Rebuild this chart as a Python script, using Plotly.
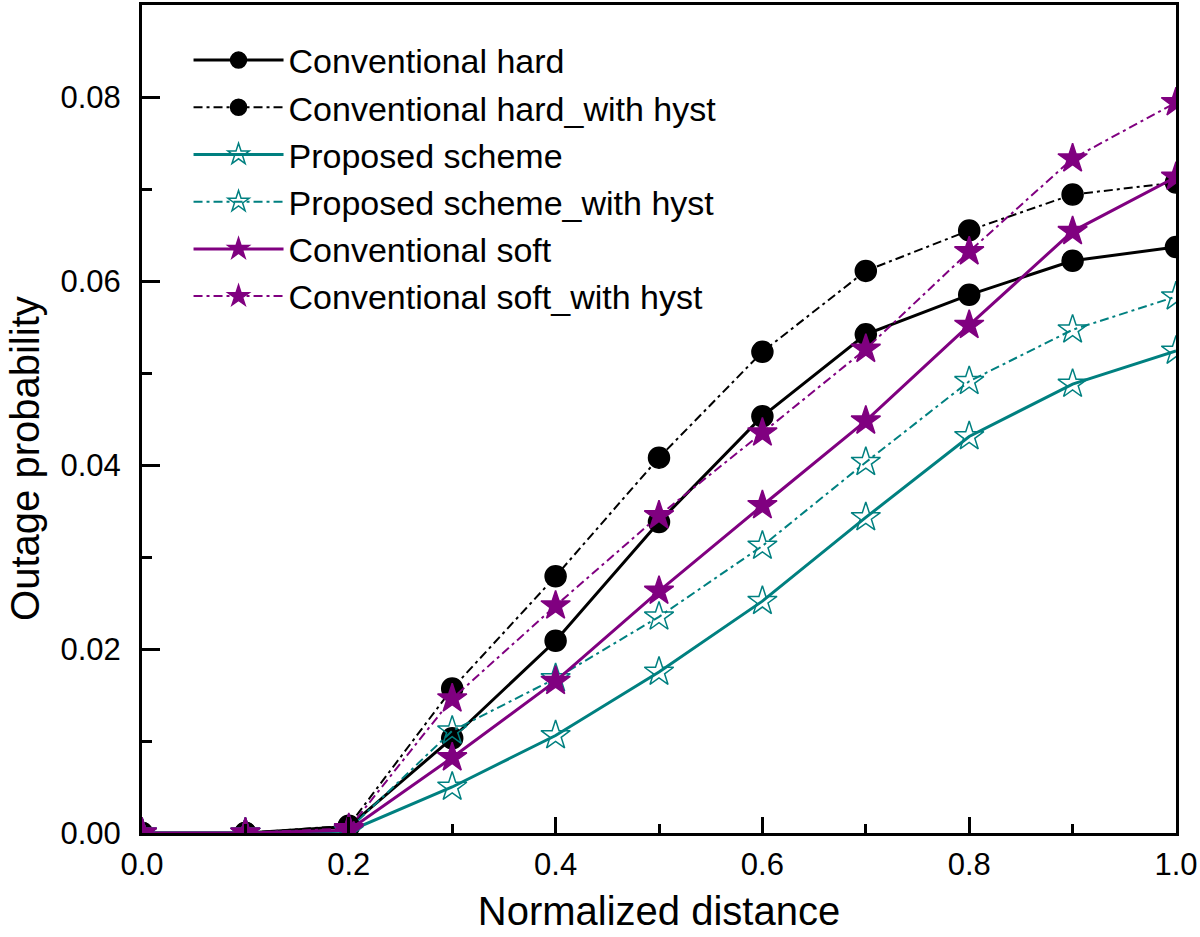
import plotly.graph_objects as go

x = [0.0, 0.1, 0.2, 0.3, 0.4, 0.5, 0.6, 0.7, 0.8, 0.9, 1.0]

hard = [0.0, 0.0, 0.0007, 0.0103, 0.0209, 0.0338, 0.0453, 0.0542, 0.0585, 0.0622, 0.0637]
hard_hyst = [0.0, 0.0, 0.0008, 0.0157, 0.0279, 0.0408, 0.0523, 0.0611, 0.0655, 0.0694, 0.0707]
proposed = [0.0, 0.0, 0.0002, 0.0050, 0.0106, 0.0175, 0.0252, 0.0343, 0.0431, 0.0488, 0.0524]
proposed_hyst = [0.0, 0.0, 0.0004, 0.0111, 0.0168, 0.0235, 0.0312, 0.0403, 0.0491, 0.0547, 0.0583]
soft = [0.0, 0.0, 0.0003, 0.0082, 0.0165, 0.0263, 0.0356, 0.0448, 0.0552, 0.0654, 0.0713]
soft_hyst = [0.0, 0.0, 0.0005, 0.0146, 0.0247, 0.0345, 0.0435, 0.0526, 0.0632, 0.0733, 0.0794]

names = ["Conventional hard", "Conventional hard_with hyst", "Proposed scheme",
         "Proposed scheme_with hyst", "Conventional soft", "Conventional soft_with hyst"]

x_ticks = [0.0, 0.2, 0.4, 0.6, 0.8, 1.0]
x_minor = [0.1, 0.3, 0.5, 0.7, 0.9]
y_ticks = [0.0, 0.02, 0.04, 0.06, 0.08]
y_minor = [0.01, 0.03, 0.05, 0.07]

BLACK = "#000000"
TEAL = "#008080"
PURPLE = "#800080"
DASHDOT = "9px,4px,3px,4px"
FONT = "Liberation Sans, Arial, Helvetica, sans-serif"

series = [
    (hard, names[0], BLACK, "solid", 3, "circle", 21),
    (hard_hyst, names[1], BLACK, DASHDOT, 2, "circle", 21),
    (proposed, names[2], TEAL, "solid", 3, "star-open", 22),
    (proposed_hyst, names[3], TEAL, DASHDOT, 2, "star-open", 22),
    (soft, names[4], PURPLE, "solid", 3, "star", 22),
    (soft_hyst, names[5], PURPLE, DASHDOT, 2, "star", 22),
]

fig = go.Figure()
for ys, nm, col, dash, lw, sym, ms in series:
    fig.add_trace(go.Scatter(
        x=x, y=ys, name=nm, mode="lines+markers",
        line=dict(color=col, width=lw, dash=dash),
        marker=dict(symbol=sym, size=ms, color=col,
                    line=dict(color=col, width=1.5)),
    ))

fig.update_layout(
    width=1200, height=937,
    margin=dict(l=142, r=22, t=2, b=104),
    paper_bgcolor="white", plot_bgcolor="white",
    showlegend=True,
    legend=dict(x=0.045, y=0.968, xanchor="left", yanchor="top",
                bgcolor="rgba(0,0,0,0)",
                font=dict(family=FONT, size=34, color="black"),
                itemwidth=90, tracegroupgap=0),
    xaxis=dict(
        range=[0, 1], tickvals=x_ticks, tickformat=".1f",
        ticks="inside", ticklen=16, tickwidth=3, tickcolor="black",
        minor=dict(tickvals=x_minor, ticks="inside", ticklen=9, tickwidth=3, tickcolor="black"),
        showline=True, linewidth=3, linecolor="black", mirror=True,
        showgrid=False, zeroline=False, ticklabeloverflow="allow",
        ticklabelstandoff=2,
        tickfont=dict(family=FONT, size=31, color="black"),
        title=dict(text="Normalized distance",
                   font=dict(family=FONT, size=40, color="black"),
                   standoff=16),
    ),
    yaxis=dict(
        range=[0, 0.09], tickvals=y_ticks, tickformat=".2f",
        ticks="inside", ticklen=18, tickwidth=3, tickcolor="black",
        minor=dict(tickvals=y_minor, ticks="inside", ticklen=10, tickwidth=3, tickcolor="black"),
        showline=True, linewidth=3, linecolor="black", mirror=True,
        showgrid=False, zeroline=False, ticklabeloverflow="allow",
        ticklabelstandoff=12,
        tickfont=dict(family=FONT, size=31, color="black"),
    ),
    annotations=[dict(
        text="Outage probability", xref="paper", yref="paper",
        x=-0.113, y=0.452, xanchor="center", yanchor="middle",
        textangle=-90, showarrow=False,
        font=dict(family=FONT, size=40, color="black"),
    )],
)

fig.write_html("out.html", config={"displayModeBar": False},
               post_script="document.body.style.margin='0px';")
